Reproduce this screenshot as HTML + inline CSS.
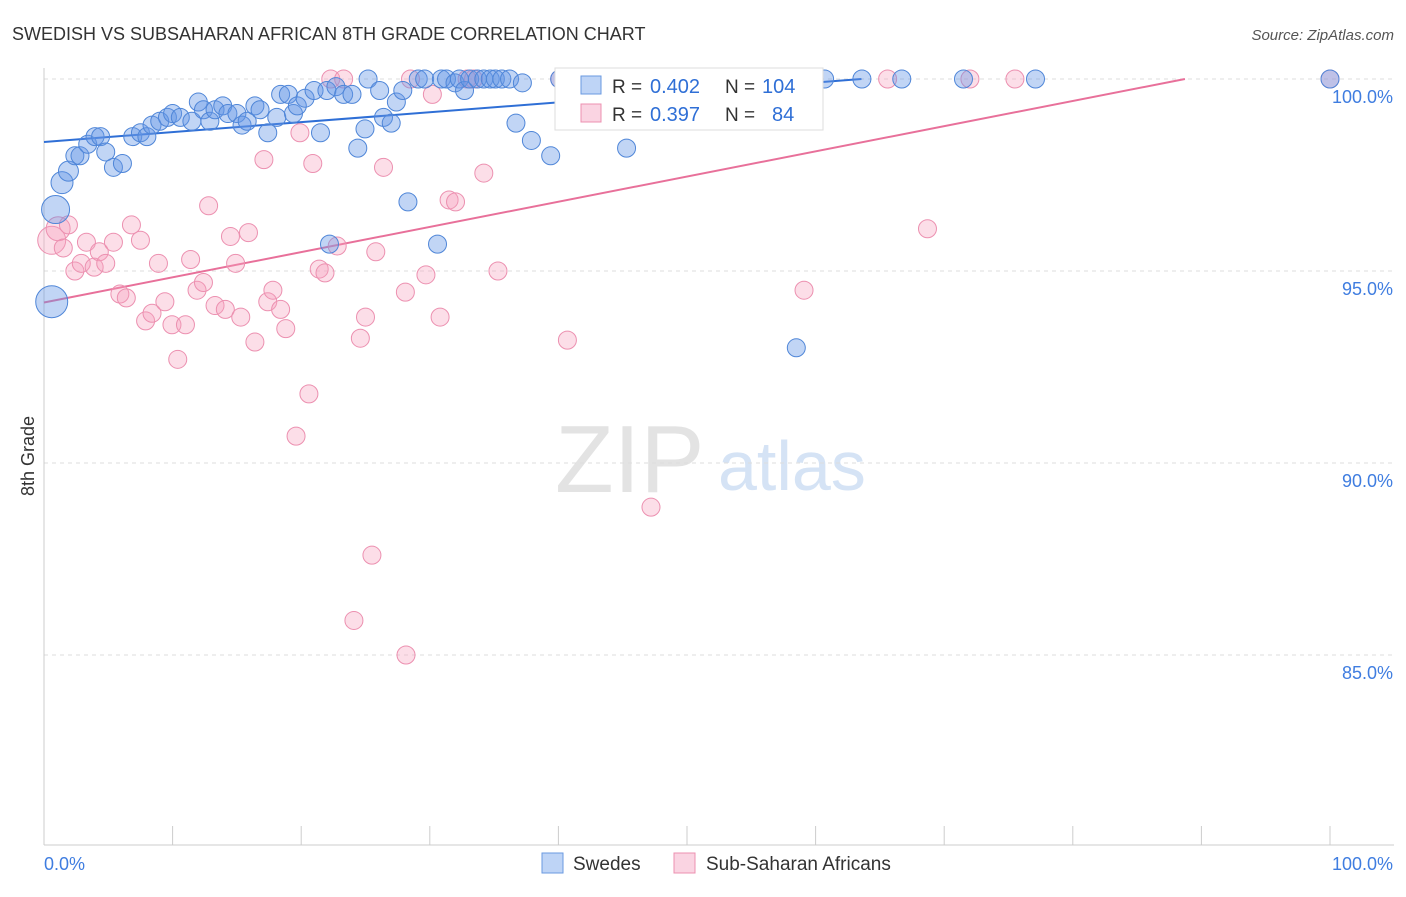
<!DOCTYPE html>
<html><head><meta charset="utf-8">
<style>
body{margin:0;background:#fff;font-family:"Liberation Sans",sans-serif;}
svg text{font-family:"Liberation Sans",sans-serif;}
</style></head>
<body>
<svg id="chart" width="1406" height="892" xmlns="http://www.w3.org/2000/svg">
<text x="12" y="40" font-size="18" fill="#333">SWEDISH VS SUBSAHARAN AFRICAN 8TH GRADE CORRELATION CHART</text>
<text x="1394" y="40" font-size="15" fill="#555" font-style="italic" text-anchor="end">Source: ZipAtlas.com</text>
<text x="555" y="492" font-size="96" fill="#e3e3e3" font-family="Liberation Serif">ZIP</text>
<text x="718" y="490" font-size="70" fill="#d5e3f5">atlas</text>
<g id="grid"></g>
<g id="axes"></g>
<g id="lines"></g>
<g id="pts"></g>
<text transform="translate(34,456) rotate(-90)" font-size="18" fill="#333" text-anchor="middle">8th Grade</text>
<g>
<rect x="555" y="68" width="268" height="62" fill="#fff" stroke="#ddd"/>
<rect x="581" y="76" width="20" height="18" fill="rgba(110,160,235,0.45)" stroke="#6a9ae0"/>
<rect x="581" y="104" width="20" height="18" fill="rgba(245,160,190,0.45)" stroke="#ec90b0"/>
<text x="612" y="93" font-size="19" fill="#333">R =</text>
<text x="650" y="93" font-size="20" fill="#2f6fd6">0.402</text>
<text x="725" y="93" font-size="19" fill="#333">N =</text>
<text x="762" y="93" font-size="20" fill="#2f6fd6">104</text>
<text x="612" y="121" font-size="19" fill="#333">R =</text>
<text x="650" y="121" font-size="20" fill="#2f6fd6">0.397</text>
<text x="725" y="121" font-size="19" fill="#333">N =</text>
<text x="772" y="121" font-size="20" fill="#2f6fd6">84</text>
</g>
<g>
<rect x="542" y="853" width="21" height="20" fill="rgba(110,160,235,0.45)" stroke="#6a9ae0"/>
<text x="573" y="870" font-size="19" fill="#333">Swedes</text>
<rect x="674" y="853" width="21" height="20" fill="rgba(245,160,190,0.45)" stroke="#ec90b0"/>
<text x="706" y="870" font-size="19" fill="#333">Sub-Saharan Africans</text>
</g>
</svg>
<script>
const yTicks=[100,95,90,85];
const yTickLabels=["100.0%","95.0%","90.0%","85.0%"];
const xTicks=[0,10,20,30,40,50,60,70,80,90,100];
const blueX=[0.6,0.9,1.4,1.9,2.4,2.8,3.4,3.97,4.4,4.8,5.4,6.1,6.9,7.5,8.0,8.4,9.0,9.6,10.0,10.6,11.5,12.0,12.4,12.9,13.3,13.9,14.3,15.0,15.4,15.8,16.4,16.8,17.4,18.1,18.4,19.0,19.4,19.7,20.3,21.0,21.5,22.0,22.7,23.3,23.95,24.4,24.96,25.2,26.1,26.4,27.0,27.4,27.9,28.3,29.1,29.6,30.6,30.9,31.3,31.96,32.3,32.7,33.1,33.7,34.2,34.7,35.1,35.6,36.2,36.7,37.2,37.9,39.4,40.1,41.2,43.3,45.3,22.2,58.5,60.7,63.6,66.7,71.5,77.1,100];
const blueY=[94.2,96.6,97.3,97.6,98.0,98.0,98.3,98.5,98.5,98.1,97.7,97.8,98.5,98.6,98.5,98.8,98.9,99.0,99.1,99.0,98.9,99.4,99.2,98.9,99.2,99.3,99.1,99.1,98.8,98.9,99.3,99.2,98.6,99.0,99.6,99.6,99.1,99.3,99.5,99.7,98.6,99.7,99.8,99.6,99.6,98.2,98.7,100,99.7,99.0,98.85,99.4,99.7,96.8,100,100,95.7,100,100,99.9,100,99.7,100,100,100,100,100,100,100,98.85,99.9,98.4,98.0,100,100,100,98.2,95.7,93.0,100,100,100,100,100,100];
const blueR=[16,14,11,10];
const pinkX=[0.6,1.1,1.5,1.9,2.4,2.9,3.3,3.9,4.3,4.8,5.4,5.9,6.4,6.8,7.5,7.9,8.4,8.9,9.4,9.95,10.4,11.0,11.4,11.9,12.4,12.8,13.3,14.1,14.5,14.9,15.3,15.9,16.4,17.1,17.4,17.8,18.4,18.8,19.6,19.9,20.6,20.9,21.4,21.85,22.3,22.8,23.3,24.1,24.6,25.0,25.5,25.8,26.4,28.1,28.15,28.5,29.7,30.2,30.8,31.5,32.0,32.9,33.4,34.2,35.3,40.7,47.2,40.1,41.4,46.3,47.8,50.5,54.3,55.7,59.1,65.6,68.7,72.0,75.5,100];
const pinkY=[95.8,96.1,95.6,96.2,95.0,95.2,95.75,95.1,95.5,95.2,95.75,94.4,94.3,96.2,95.8,93.7,93.9,95.2,94.2,93.6,92.7,93.6,95.3,94.5,94.7,96.7,94.1,94.0,95.9,95.2,93.8,96.0,93.15,97.9,94.2,94.5,94.0,93.5,90.7,98.6,91.8,97.8,95.05,94.95,100,95.65,100,85.9,93.25,93.8,87.6,95.5,97.7,94.45,85.0,100,94.9,99.6,93.8,96.85,96.8,100,100,97.55,95.0,93.2,88.85,100,100,100,100,100,100,99.05,94.5,100,96.1,100,100,100];
const pinkR=[14,12];
const blueLine=[98.36,0.0258];
const pinkLine=[94.18,0.0656];
const X0=44,X1=1330,Y100=79,PXPCT=38.4;
const sx=v=>X0+(X1-X0)*v/100;
const sy=v=>Y100+(100-v)*PXPCT;
const NS="http://www.w3.org/2000/svg";
function mk(tag,attrs,parent){const e=document.createElementNS(NS,tag);for(const k in attrs)e.setAttribute(k,attrs[k]);parent.appendChild(e);return e;}
const grid=document.getElementById('grid'),axes=document.getElementById('axes');
yTicks.forEach((t,i)=>{
 const l=mk('line',{x1:X0,x2:1394,y1:sy(t),y2:sy(t),stroke:'#ddd','stroke-dasharray':'4,4'},grid);
 
 
 const tx=mk('text',{x:1393,y:sy(t)+24,'font-size':18,fill:'#3f7de0','text-anchor':'end'},axes);
 tx.textContent=yTickLabels[i];
 
 
});
const ax=mk('line',{x1:X0,x2:X0,y1:68,y2:845,stroke:'#ccc'},axes);


const bx=mk('line',{x1:X0,x2:1394,y1:845,y2:845,stroke:'#ccc'},axes);


xTicks.forEach(t=>{
 const l=mk('line',{x1:sx(t),x2:sx(t),y1:826,y2:845,stroke:'#ccc'},axes);
 
 
});
const xl0=mk('text',{x:44,y:870,'font-size':18,fill:'#3f7de0'},axes);xl0.textContent='0.0%';


const xl1=mk('text',{x:1393,y:870,'font-size':18,fill:'#3f7de0','text-anchor':'end'},axes);xl1.textContent='100.0%';


const pts=document.getElementById('pts');
function drawPts(X,Y,R,fill,stroke,name){
 X.forEach((x,i)=>{
  const c=mk('circle',{cx:sx(x),cy:sy(Y[i]),r:R[i]||9,fill:fill,stroke:stroke,'stroke-width':1},pts);
  
  
 });
}
drawPts(pinkX,pinkY,pinkR,'rgba(245,160,190,0.35)','#ec90b0','subsaharan-point');
drawPts(blueX,blueY,blueR,'rgba(100,150,230,0.4)','#4f86d8','swedes-point');
const lines=document.getElementById('lines');
function drawLine(p,color,name){
 const xEnd=Math.min(100,(100-p[0])/p[1]);
 const l=mk('line',{x1:sx(0),y1:sy(p[0]),x2:sx(xEnd),y2:sy(p[0]+p[1]*xEnd),stroke:color,'stroke-width':2},lines);
 
 
}
drawLine(blueLine,'#2f6fd6','swedes-trendline');
drawLine(pinkLine,'#e8709a','subsaharan-trendline');
</script>
</body></html>
